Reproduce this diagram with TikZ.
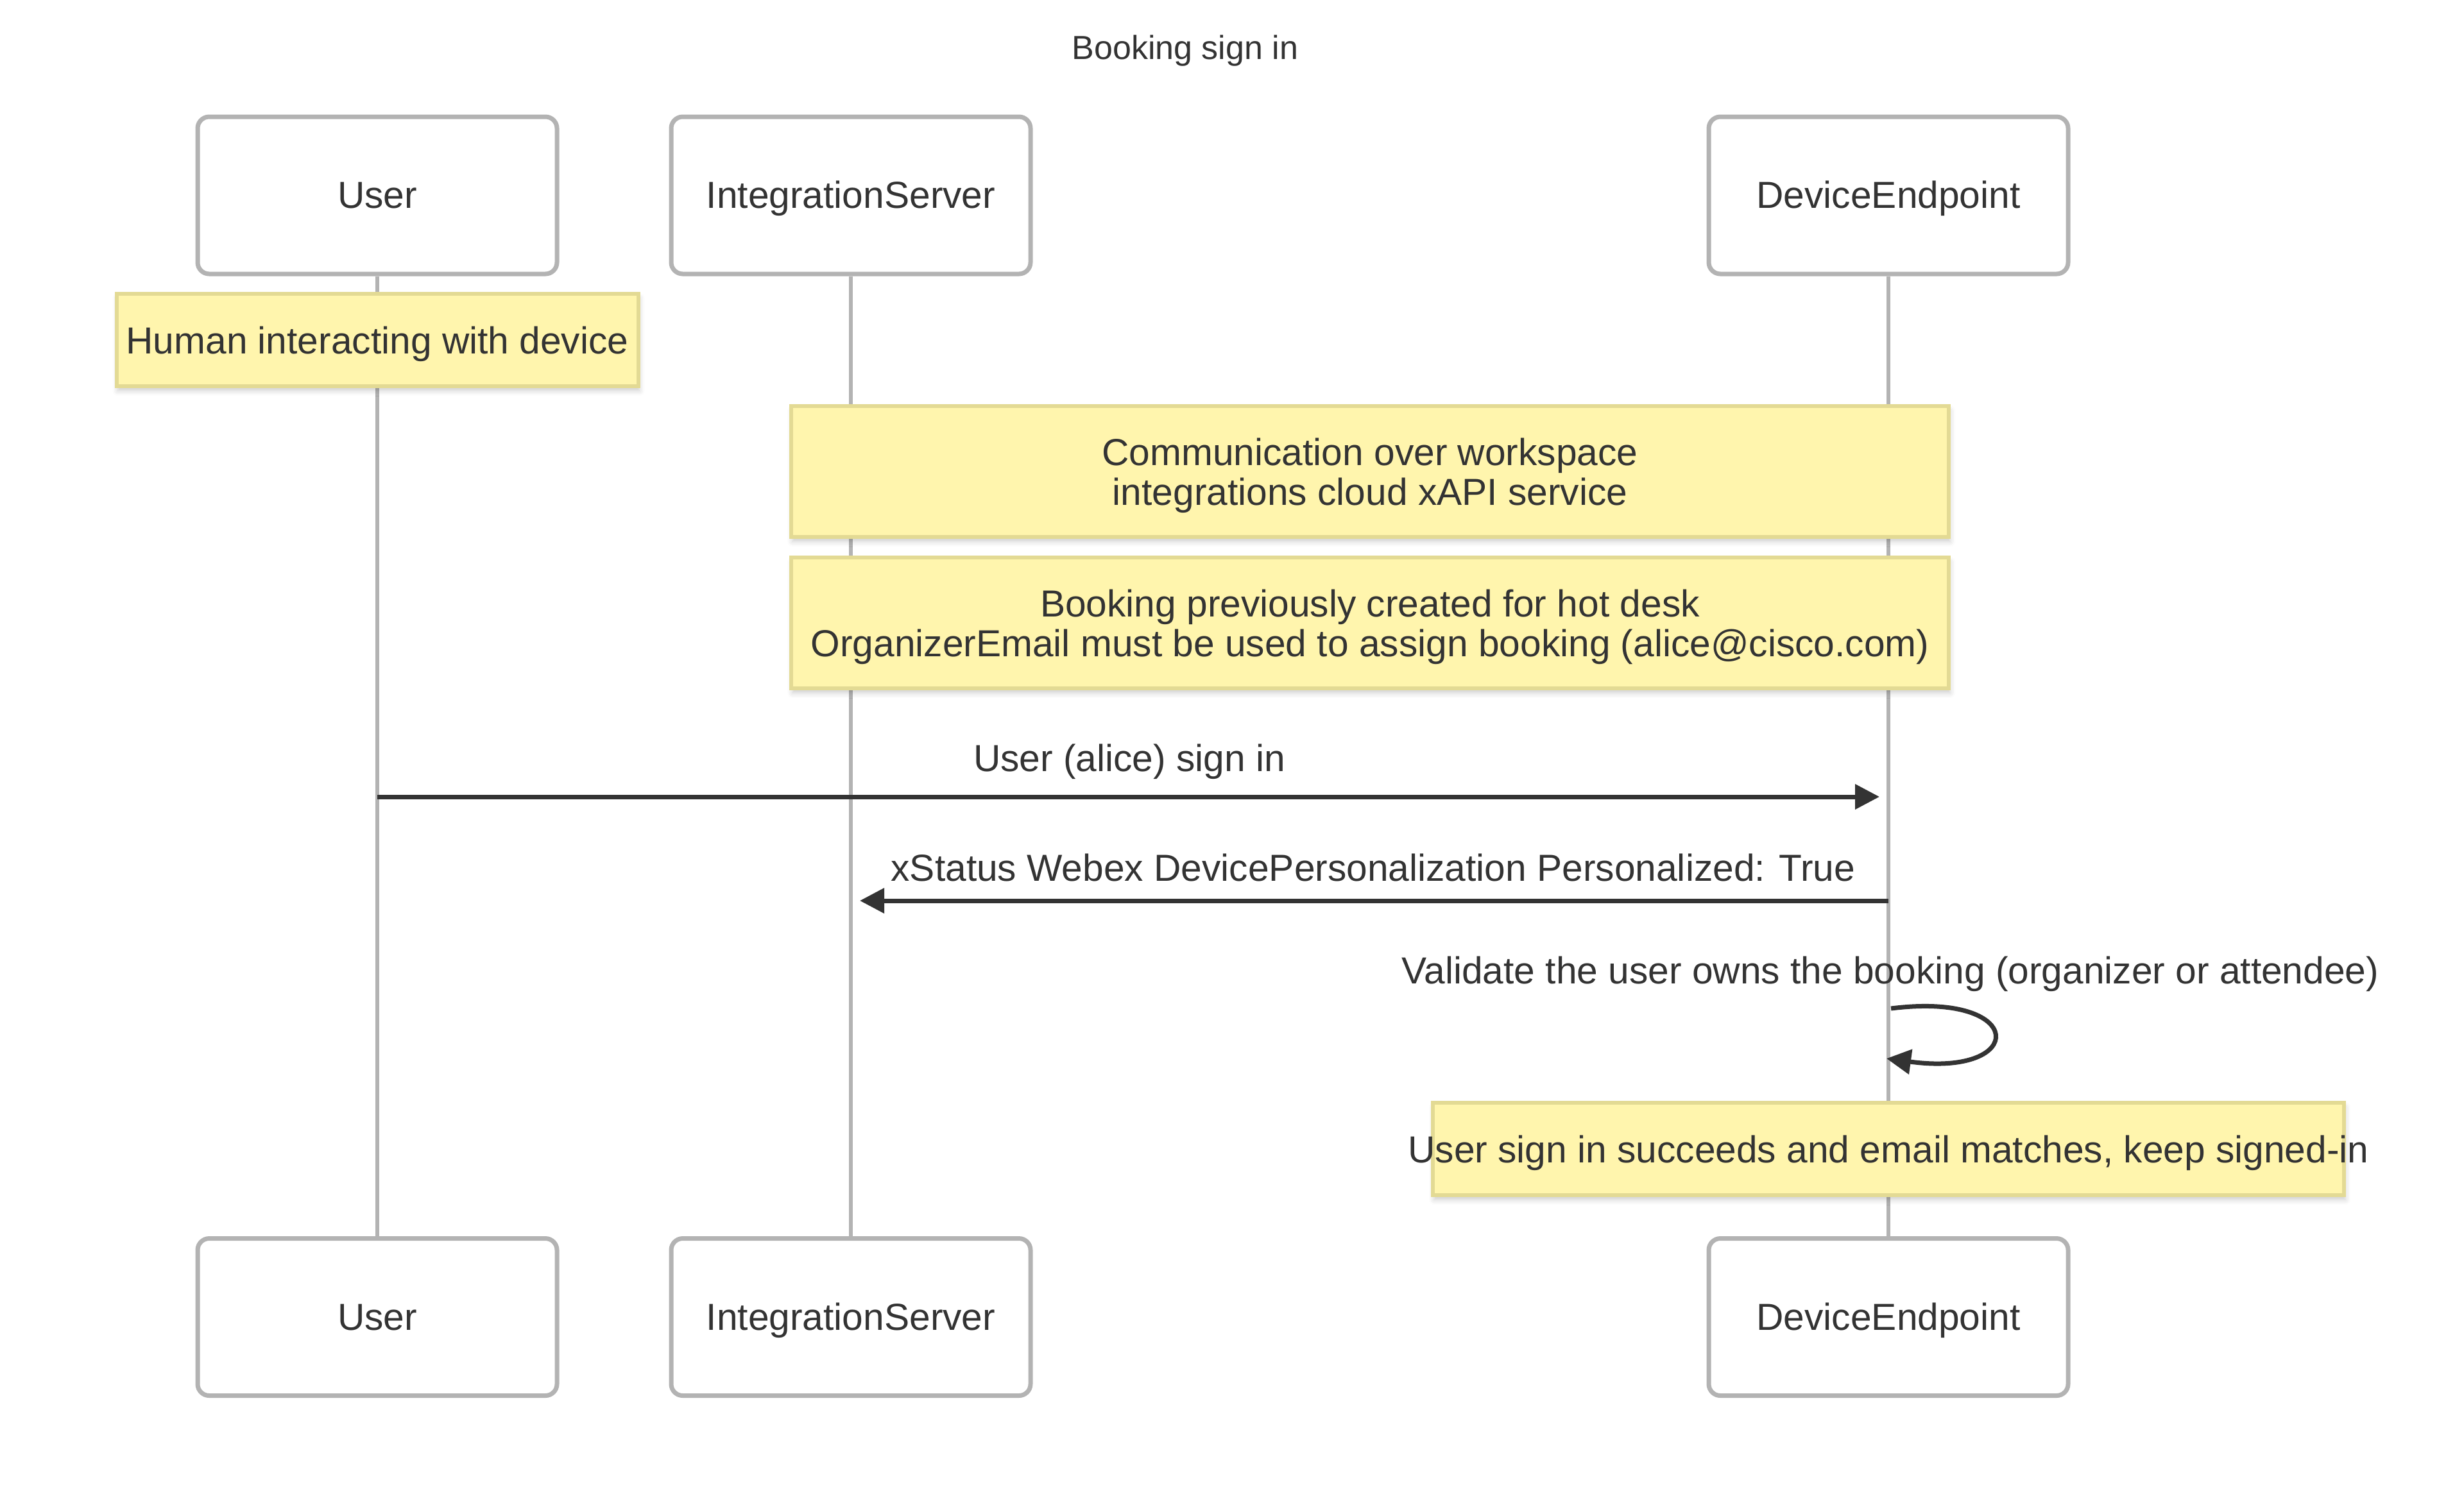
\documentclass[tikz,border=0pt]{standalone}
\usepackage{fontspec}
\setmainfont{Liberation Sans}
\usetikzlibrary{positioning,calc,arrows.meta,shadows.blur}
\definecolor{ink}{HTML}{333333}
\definecolor{actorline}{HTML}{B3B3B3}
\definecolor{notefill}{HTML}{FFF5AD}
\definecolor{noteline}{HTML}{E3DA94}
\tikzset{
	font=\fontsize{16.7pt}{17.6pt}\selectfont,
	actor/.style={draw=actorline, line width=0.07cm, fill=white, rounded corners=0.18cm,
		minimum width=5.6cm, minimum height=2.45cm, text=ink, text height=0.46cm, text depth=0.06cm},
	life/.style={draw=actorline, line width=0.06cm},
	note/.style={draw=noteline, line width=0.06cm, fill=notefill, text=ink, align=center,
		inner sep=0pt, text depth=0pt, blur shadow={shadow xshift=0.02cm, shadow yshift=-0.07cm,
		shadow blur radius=0.08cm, shadow opacity=20}},
	msg/.style={draw=ink, line width=0.07cm, -{Triangle[length=0.38cm, width=0.38cm]}},
	msgtext/.style={text=ink, inner sep=0pt}
}

\begin{document}
\begin{tikzpicture}
	\useasboundingbox (0,0) rectangle (38.4,-23.31);

	\node[msgtext, font=\fontsize{14.8pt}{17pt}\selectfont] (title) at (18.47,-0.79) {Booking sign in};

	\node[actor] (userT) at (5.88,-3.045) {User};
	\node[actor] (srvT)  at (13.26,-3.045) {IntegrationServer};
	\node[actor] (devT)  at (29.43,-3.045) {DeviceEndpoint};
	\node[actor] (userB) at (5.88,-20.53) {User};
	\node[actor] (srvB)  at (13.26,-20.53) {IntegrationServer};
	\node[actor] (devB)  at (29.43,-20.53) {DeviceEndpoint};

	\draw[life] (userT) -- (userB);
	\draw[life] (srvT) -- (srvB);
	\draw[life] (devT) -- (devB);

	\node[note, minimum width=8.13cm, minimum height=1.44cm] (n1) at (5.88,-5.30) {Human interacting with device};
	\node[note, minimum width=18.04cm, minimum height=2.04cm] (n2) at (21.35,-7.35)
		{Communication over workspace\\integrations cloud xAPI service};
	\node[note, minimum width=18.04cm, minimum height=2.04cm] (n3) at (21.35,-9.71)
		{Booking previously created for hot desk\\OrganizerEmail must be used to assign booking (alice@cisco.com)};

	\coordinate (m1s) at (5.88,-12.42);
	\coordinate (m1e) at (29.29,-12.42);
	\node[msgtext] (m1) at (17.60,-11.87) {User (alice) sign in};
	\draw[msg] (m1s) -- (m1e);

	\coordinate (m2s) at (29.43,-14.04);
	\coordinate (m2e) at (13.40,-14.04);
	\node[msgtext] (m2) at (21.40,-13.52) {xStatus Webex DevicePersonalization Personalized: True};
	\draw[msg] (m2s) -- (m2e);

	\coordinate (m3s) at (29.47,-15.72);
	\coordinate (m3e) at (29.40,-16.50);
	\node[msgtext] (m3) at (29.46,-15.18) {Validate the user owns the booking (organizer or attendee)};
	\draw[msg] (m3s) .. controls (31.6,-15.45) and (31.6,-16.80) .. (m3e);

	\node[note, minimum width=14.2cm, minimum height=1.44cm] (n4) at (29.43,-17.91)
		{\makebox[0pt]{User sign in succeeds and email matches, keep signed-in}};
\end{tikzpicture}
\end{document}
